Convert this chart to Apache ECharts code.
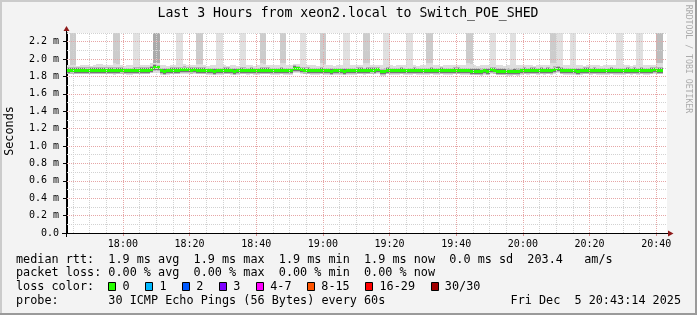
<!DOCTYPE html>
<html><head><meta charset="utf-8">
<script src="https://cdn.jsdelivr.net/npm/echarts@6/dist/echarts.min.js"></script>
<style>html,body{margin:0;padding:0;background:#f3f3f3}#c{width:697px;height:315px}</style>
</head><body><div id="c"></div>
<script>
// ---------- data (minutes since midnight; step i starts at 17:43 + i) ----------
const startMinute = 1063;               // 17:43
const viewStart = 1063 + 14 / 60;       // 17:43:14
const viewEnd = viewStart + 180;        // 20:43:14

const median = [
1.872,1.874,1.870,1.871,1.873,1.870,1.869,1.872,1.871,1.870,
1.873,1.871,1.870,1.872,1.869,1.871,1.874,1.868,1.866,1.864,
1.872,1.869,1.871,1.870,1.873,1.885,1.908,1.898,1.866,1.862,
1.868,1.871,1.870,1.872,1.876,1.880,1.878,1.874,1.876,1.873,
1.870,1.872,1.866,1.864,1.862,1.866,1.864,1.870,1.872,1.866,
1.862,1.868,1.871,1.869,1.866,1.870,1.864,1.868,1.870,1.872,
1.870,1.868,1.866,1.868,1.870,1.866,1.868,1.866,1.895,1.888,
1.878,1.874,1.870,1.866,1.868,1.866,1.870,1.868,1.864,1.862,
1.866,1.864,1.866,1.862,1.868,1.866,1.868,1.872,1.870,1.868,
1.872,1.874,1.870,1.875,1.856,1.858,1.870,1.868,1.866,1.868,
1.870,1.866,1.868,1.866,1.870,1.864,1.866,1.868,1.866,1.870,
1.866,1.868,1.870,1.866,1.864,1.868,1.872,1.870,1.866,1.868,
1.866,1.862,1.860,1.862,1.858,1.864,1.862,1.876,1.874,1.862,
1.860,1.862,1.858,1.856,1.860,1.858,1.866,1.870,1.868,1.872,
1.870,1.868,1.872,1.866,1.870,1.868,1.880,1.886,1.872,1.866,
1.868,1.864,1.866,1.862,1.864,1.870,1.872,1.868,1.870,1.866,
1.864,1.868,1.866,1.870,1.868,1.866,1.868,1.866,1.870,1.868,
1.872,1.866,1.870,1.868,1.866,1.872,1.876,1.872,1.870];

const smokeTop = [
1.930,1.935,1.928,1.926,1.930,1.932,1.928,1.925,1.930,1.945,
1.940,1.928,1.930,1.935,1.950,1.948,1.930,1.926,1.932,1.930,
1.945,1.940,1.930,1.928,1.935,1.950,1.960,1.955,1.930,1.928,
1.926,1.932,1.935,1.950,1.945,1.940,1.935,1.930,1.928,1.945,
1.942,1.930,1.926,1.928,1.935,1.945,1.940,1.930,1.926,1.928,
1.930,1.925,1.945,1.940,1.928,1.930,1.926,1.930,1.950,1.945,
1.932,1.928,1.930,1.935,1.960,1.955,1.930,1.932,1.945,1.940,
1.948,1.945,1.932,1.928,1.930,1.926,1.950,1.945,1.930,1.928,
1.926,1.930,1.935,1.950,1.945,1.930,1.928,1.932,1.935,1.955,
1.950,1.930,1.928,1.930,1.935,1.945,1.940,1.930,1.926,1.928,
1.930,1.932,1.945,1.940,1.930,1.926,1.935,1.930,1.955,1.950,
1.930,1.928,1.926,1.930,1.928,1.935,1.932,1.928,1.930,1.935,
1.950,1.945,1.930,1.926,1.928,1.930,1.932,1.945,1.940,1.930,
1.928,1.926,1.930,1.945,1.940,1.930,1.935,1.932,1.928,1.930,
1.926,1.930,1.935,1.932,1.930,1.955,1.950,1.945,1.940,1.930,
1.928,1.945,1.940,1.935,1.930,1.926,1.930,1.928,1.932,1.930,
1.926,1.928,1.930,1.935,1.930,1.945,1.940,1.930,1.928,1.926,
1.930,1.945,1.940,1.932,1.928,1.930,1.935,1.955,1.950];

const smokeBot = [
1.830,1.826,1.832,1.828,1.830,1.834,1.826,1.830,1.832,1.828,
1.830,1.826,1.832,1.828,1.820,1.824,1.830,1.826,1.818,1.816,
1.826,1.830,1.828,1.832,1.830,1.836,1.840,1.838,1.820,1.814,
1.822,1.826,1.830,1.828,1.832,1.834,1.830,1.826,1.828,1.830,
1.826,1.828,1.820,1.818,1.814,1.820,1.818,1.826,1.828,1.820,
1.816,1.822,1.828,1.826,1.820,1.826,1.818,1.822,1.826,1.828,
1.826,1.822,1.820,1.822,1.826,1.820,1.822,1.820,1.838,1.836,
1.830,1.828,1.826,1.820,1.822,1.820,1.826,1.822,1.816,1.814,
1.820,1.818,1.820,1.816,1.822,1.820,1.822,1.828,1.826,1.822,
1.828,1.830,1.826,1.830,1.808,1.810,1.826,1.822,1.820,1.822,
1.826,1.820,1.822,1.820,1.826,1.818,1.820,1.822,1.820,1.826,
1.820,1.822,1.826,1.820,1.818,1.822,1.828,1.826,1.820,1.822,
1.820,1.814,1.812,1.814,1.808,1.816,1.814,1.830,1.828,1.814,
1.812,1.814,1.808,1.806,1.812,1.810,1.820,1.826,1.822,1.828,
1.826,1.822,1.828,1.820,1.826,1.822,1.834,1.840,1.826,1.820,
1.822,1.816,1.820,1.814,1.816,1.826,1.828,1.822,1.826,1.820,
1.816,1.822,1.820,1.826,1.822,1.820,1.822,1.818,1.826,1.822,
1.828,1.820,1.826,1.822,1.818,1.828,1.832,1.826,1.824];

// how many of the pings exceeded the top of the chart (shade level of the tall bars)
const spikeLevel = [
0,2,2,0,0,0,0,0,0,0,
0,0,0,0,2,2,0,0,0,0,
1,1,0,0,0,0,4,4,0,0,
0,0,0,1,1,0,0,0,0,2,
2,0,0,0,0,1,1,0,0,0,
0,0,1,1,0,0,0,0,2,2,
0,0,0,0,2,2,0,0,0,0,
1,1,0,0,0,0,2,2,0,0,
0,0,0,1,1,0,0,0,0,2,
2,0,0,0,0,1,1,0,0,0,
0,0,1,1,0,0,0,0,2,2,
0,0,0,0,0,0,0,0,0,0,
2,2,0,0,0,0,0,1,1,0,
0,0,0,1,1,0,0,0,0,0,
0,0,0,0,0,2,2,1,1,0,
0,1,1,0,0,0,0,0,0,0,
0,0,0,0,0,1,1,0,0,0,
0,1,1,0,0,0,0,3,3];

const xMajorTicks = [1080,1100,1120,1140,1160,1180,1200,1220,1240];
const xTickLabels = ['18:00','18:20','18:40','19:00','19:20','19:40','20:00','20:20','20:40'];
const yTicks = [0,0.2,0.4,0.6,0.8,1.0,1.2,1.4,1.6,1.8,2.0,2.2];
const yMax = 2.3;

const lossLabels = ['0','1','2','3','4-7','8-15','16-29','30/30'];
const lossColors = ['#26ff00','#00b8ff','#0059ff','#7e00ff','#ff00ff','#ff5500','#ff0000','#a10000'];

const titleText = 'Last 3 Hours from xeon2.local to Switch_POE_SHED';
const legendRtt = 'median rtt:  1.9 ms avg  1.9 ms max  1.9 ms min  1.9 ms now  0.0 ms sd  203.4   am/s';
const legendLoss = 'packet loss: 0.00 % avg  0.00 % max  0.00 % min  0.00 % now';
const legendColor = 'loss color:';
const probeText = 'probe:       30 ICMP Echo Pings (56 Bytes) every 60s';
const stampText = 'Fri Dec  5 20:43:14 2025';

// ---------- drawing ----------
const MONO = '"DejaVu Sans Mono", monospace';
const spikeColors = [null, '#e0e0e0', '#cccccc', '#bdbdbd', '#aaaaaa'];
const C_LIGHT = '#dedede', C_MID_LO = '#bdbdbd', C_DARK = '#767676', C_MID_HI = '#b8b8b8';

const stepData = median.map((m, i) => [startMinute + i, m, smokeBot[i], smokeTop[i], spikeLevel[i]]);

function stepRects(params, api, bands) {
  const x0 = api.value(0);
  const xl = Math.round(api.coord([x0, 0])[0]);
  const xr = Math.round(api.coord([x0 + 1, 0])[0]);
  const cs = params.coordSys;
  const children = [];
  bands.forEach(b => {
    if (b.hi <= b.lo) return;
    const yt = Math.round(api.coord([x0, b.hi])[1]);
    const yb = Math.round(api.coord([x0, b.lo])[1]);
    const r = echarts.graphic.clipRectByRect({ x: xl, y: yt, width: xr - xl, height: yb - yt },
      { x: cs.x, y: cs.y, width: cs.width, height: cs.height });
    if (r && r.width > 0 && r.height > 0) children.push({ type: 'rect', shape: r, style: { fill: b.color } });
  });
  return { type: 'group', children };
}

const smokeSeries = {
  type: 'custom', data: stepData, encode: { x: 0, y: 1 }, z: 2, silent: true, animation: false,
  renderItem(params, api) {
    const m = api.value(1), bot = api.value(2), top = api.value(3), lvl = api.value(4);
    const lo2 = Math.max(bot, m - 0.040), lo1 = m - 0.028, hi1 = m + 0.022, hi2 = Math.min(top, m + 0.035);
    const bands = [
      { lo: bot, hi: lo2, color: C_LIGHT },
      { lo: lo2, hi: lo1, color: C_MID_LO },
      { lo: lo1, hi: hi1, color: C_DARK },
      { lo: hi1, hi: hi2, color: C_MID_HI },
      { lo: hi2, hi: top, color: C_LIGHT }
    ];
    if (lvl > 0) bands.push({ lo: top, hi: yMax + 0.1, color: spikeColors[lvl] });
    return stepRects(params, api, bands);
  }
};
const medianSeries = {
  type: 'custom', data: stepData, encode: { x: 0, y: 1 }, z: 4, silent: true, animation: false,
  renderItem(params, api) {
    const m = api.value(1);
    return stepRects(params, api, [{ lo: m - 0.017, hi: m + 0.017, color: lossColors[0] }]);
  }
};

// grid lines (drawn above the smoke, as rrdtool does)
const RED = '#e6a6a6', GRAY = '#d2d2d2';
const gridData = [];
for (let m = 1065; m <= 1240; m += 5) {
  gridData.push({ xAxis: m, lineStyle: { color: m % 20 === 0 ? RED : GRAY, type: [1, 1], width: 1 } });
}
for (let k = 1; k <= 23; k++) {
  gridData.push({ yAxis: k / 10, lineStyle: { color: k % 2 === 0 ? RED : GRAY, type: [1, 1], width: 1 } });
}
const gridSeries = {
  type: 'line', data: [[startMinute + 1, -1]], symbol: 'none', lineStyle: { opacity: 0 }, z: 3,
  silent: true, animation: false,
  markLine: { silent: true, animation: false, symbol: ['none', 'none'], label: { show: false },
    emphasis: { disabled: true }, data: gridData }
};

const g = [];
g.push({ type: 'rect', shape: { x: 0, y: 0, width: 697, height: 2 }, style: { fill: '#cbcbcb' }, z: 50 });
g.push({ type: 'rect', shape: { x: 0, y: 0, width: 2, height: 315 }, style: { fill: '#cbcbcb' }, z: 50 });
g.push({ type: 'rect', shape: { x: 0, y: 313, width: 697, height: 2 }, style: { fill: '#9a9a9a' }, z: 51 });
g.push({ type: 'rect', shape: { x: 695, y: 0, width: 2, height: 315 }, style: { fill: '#9a9a9a' }, z: 51 });
g.push({ type: 'line', shape: { x1: 62, y1: 233.5, x2: 668, y2: 233.5 }, style: { stroke: '#000', lineWidth: 1 }, z: 60 });
g.push({ type: 'line', shape: { x1: 66.5, y1: 237, x2: 66.5, y2: 30 }, style: { stroke: '#000', lineWidth: 1 }, z: 60 });
g.push({ type: 'polygon', shape: { points: [[63.5, 31], [69.5, 31], [66.5, 26]] }, style: { fill: '#8e1a1a' }, z: 61 });
g.push({ type: 'polygon', shape: { points: [[668, 230.5], [668, 236.5], [673.5, 233.5]] }, style: { fill: '#8e1a1a' }, z: 61 });
function txt(text, x, y, size, opts) {
  return Object.assign({ type: 'text', x, y, z: 70, silent: true,
    style: Object.assign({ text, font: size + 'px ' + MONO, fill: '#000', align: 'left', verticalAlign: 'middle' }, (opts && opts.style) || {}) },
    (opts && opts.el) || {});
}
g.push(txt(titleText, 348, 14, 13.2, { style: { align: 'center' } }));
g.push(txt('Seconds', 10, 131, 11.8, { style: { align: 'center' }, el: { rotation: Math.PI / 2 } }));
g.push(txt('RRDTOOL / TOBI OETIKER', 688, 59, 8.2, { style: { align: 'center', fill: '#ababab' }, el: { rotation: -Math.PI / 2 } }));
const CW = 7.1, LX = 16;
g.push(txt(legendRtt, LX, 259.5, 11.8));
g.push(txt(legendLoss, LX, 273, 11.8));
g.push(txt(legendColor, LX, 287, 11.8));
g.push(txt(probeText, LX, 301, 11.8));
g.push(txt(stampText, 681, 301, 11.8, { style: { align: 'right' } }));
let bx = LX + 13 * CW;
lossLabels.forEach((lab, i) => {
  g.push({ type: 'rect', z: 70, shape: { x: Math.round(bx) + 0.5, y: 282.5, width: 7, height: 8 },
    style: { fill: lossColors[i], stroke: '#000', lineWidth: 1 } });
  g.push(txt(lab, bx + 2 * CW, 287, 11.8));
  bx += (lab.length + 4.2) * CW;
});

const chart = echarts.init(document.getElementById('c'), null, { renderer: 'canvas' });
chart.setOption({
  animation: false,
  backgroundColor: '#f3f3f3',
  grid: { left: 67, top: 33, width: 600, height: 200, show: true, backgroundColor: '#ffffff', borderWidth: 0, containLabel: false },
  xAxis: {
    type: 'value', min: viewStart, max: viewEnd,
    axisLine: { show: true, onZero: false, lineStyle: { color: '#000', width: 1 } },
    axisTick: { show: true, customValues: xMajorTicks, length: 3, lineStyle: { color: '#d88c8c' } },
    axisLabel: { show: true, customValues: xMajorTicks, margin: 6, color: '#000', fontSize: 10, fontFamily: MONO,
      formatter: v => xTickLabels[xMajorTicks.indexOf(Math.round(v))] || '' },
    splitLine: { show: false }
  },
  yAxis: {
    type: 'value', min: 0, max: yMax,
    axisLine: { show: true, onZero: false, lineStyle: { color: '#000', width: 1 } },
    axisTick: { show: true, customValues: yTicks, length: 4, lineStyle: { color: '#000' } },
    axisLabel: { show: true, customValues: yTicks, margin: 8, color: '#000', fontSize: 10, fontFamily: MONO,
      formatter: v => (Math.abs(v) < 1e-9 ? '0.0' : v.toFixed(1) + ' m') },
    splitLine: { show: false }
  },
  series: [smokeSeries, gridSeries, medianSeries],
  graphic: g
});
</script>
</body></html>
